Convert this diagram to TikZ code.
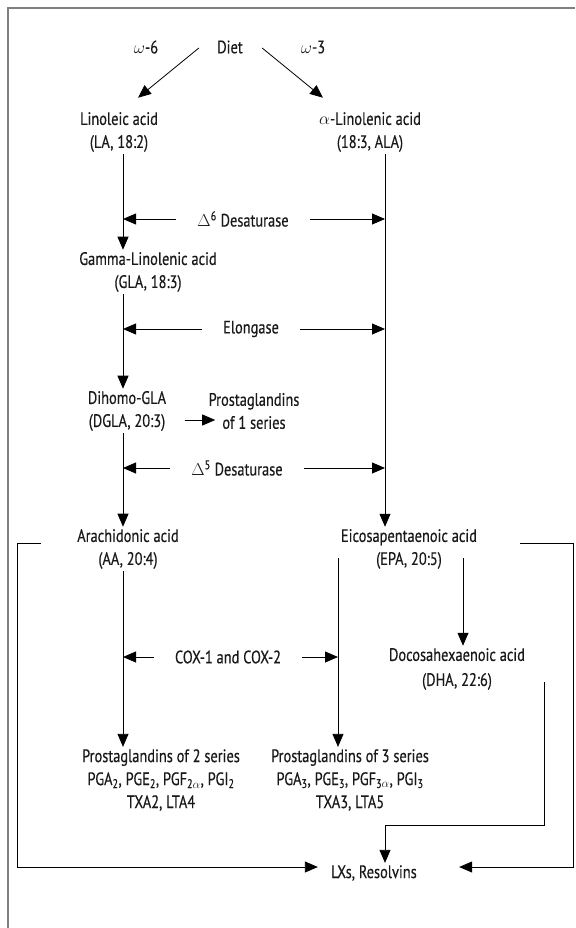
\documentclass[tikz,border=0pt]{standalone}
\usepackage{fontspec}
\setmainfont[FakeStretch=0.8,FakeBold=0.4]{PT Sans}
\usepackage{tikz}
\usetikzlibrary{arrows.meta,positioning,calc}

\begin{document}
\begin{tikzpicture}[x=1pt,y=-1pt,>={Triangle[length=13pt,width=11pt]},
    node distance=84pt,on grid,
    every node/.style={font=\fontsize{18}{23}\selectfont,inner sep=2pt,text=black!90},
    acid/.style={align=center},
    enzyme/.style={inner xsep=21pt},
    every path/.style={line width=0.8pt}]
  \useasboundingbox (0,0) rectangle (575,928);
  \draw[gray,line width=1.3pt] (8,928) -- (8,8) -- (575,8);

  % column lines
  \coordinate (colL) at (123,0);
  \coordinate (colR) at (385,0);
  \coordinate (colM) at (338,0);
  \coordinate (colD) at (463,0);
  \coordinate (loopL) at (17,867);
  \coordinate (loopR) at (573,867);

  \node (diet) at (230,47) {Diet};
  \node (w6) [left=of diet] {$\omega$-6};
  \node (w3) [right=83pt of diet] {$\omega$-3};
  \node[acid] (la) at (119,132) {Linoleic acid\\(LA, 18:2)};
  \node[acid] (ala) at (370,132) {$\alpha$-Linolenic acid\\(18:3, ALA)};
  \node[acid] (gla) at (148,272) {Gamma-Linolenic acid\\(GLA, 18:3)};
  \node[acid] (dgla) at (127,411) {Dihomo-GLA\\(DGLA, 20:3)};
  \node[acid] (pg1) [right=127pt of dgla] {Prostaglandins\\of 1 series};
  \node[acid] (aa) at (128,549) {Arachidonic acid\\(AA, 20:4)};
  \node[acid] (epa) at (409,549) {Eicosapentaenoic acid\\(EPA, 20:5)};
  \node[acid] (dha) at (457,669) {Docosahexaenoic acid\\[2pt](DHA, 22:6)};
  \node[acid] (pg2) at (161,780) {Prostaglandins of 2 series\\
    PGA\textsubscript{2}, PGE\textsubscript{2}, PGF\textsubscript{2$\alpha$}, PGI\textsubscript{2}\\
    TXA2, LTA4};
  \node[acid] (pg3) at (350,780) {Prostaglandins of 3 series\\
    PGA\textsubscript{3}, PGE\textsubscript{3}, PGF\textsubscript{3$\alpha$}, PGI\textsubscript{3}\\
    TXA3, LTA5};
  \node (lx) at (374,873) {LXs, Resolvins};

  \node[enzyme] (d6) at (243,219) {$\Delta$\textsuperscript{6} Desaturase};
  \node[enzyme] (elo) at (251,329) {Elongase};
  \node[enzyme] (d5) at (237,468) {$\Delta$\textsuperscript{5} Desaturase};
  \node[enzyme] (cox) at (228,657) {COX-1 and COX-2};

  \draw[->] ($(diet.west)+(-16,1)$) -- ($(la.north)+(19,-12)$);
  \draw[->] ($(diet.east)+(17,1)$) -- ($(ala.north)+(-47,-12)$);

  \draw[->] (la.south -| colL) -- (gla.north -| colL);
  \draw[->] (gla.south -| colL) -- (dgla.north -| colL);
  \draw[->] (dgla.south -| colL) -- (aa.north -| colL);
  \draw[->] (aa.south -| colL) -- (pg2.north -| colL);
  \draw[->] (ala.south -| colR) -- (epa.north -| colR);
  \draw[->] ($(epa.south -| colM)+(0,-13)$) -- (pg3.north -| colM);
  \draw[->] ($(epa.south -| colD)+(0,-13)$) -- (dha.north -| colD);
  \draw[->] ($(dgla.east)+(16,9)$) -- ($(pg1.west)+(9,9)$);

  \foreach \e in {d6,elo,d5} {
    \draw[->] (\e.west) -- (\e.west -| colL);
    \draw[->] (\e.east) -- (\e.east -| colR);
  }
  \draw[->] (cox.west) -- (cox.west -| colL);
  \draw[->] (cox.east) -- (cox.east -| colM);

  % to LXs, Resolvins
  \draw[->] ($(aa.west)+(-34,-6)$) -| (loopL) -- ($(lx.west)+(-11,-6)$);
  \draw[->] ($(epa.east)+(41,-6)$) -| (loopR) -- ($(lx.east)+(40,-6)$);
  \draw[->] ($(dha.east)+(17,13)$) |- ($(lx.north)+(11,-37)$) -- ($(lx.north)+(11,0)$);
\end{tikzpicture}
\end{document}
